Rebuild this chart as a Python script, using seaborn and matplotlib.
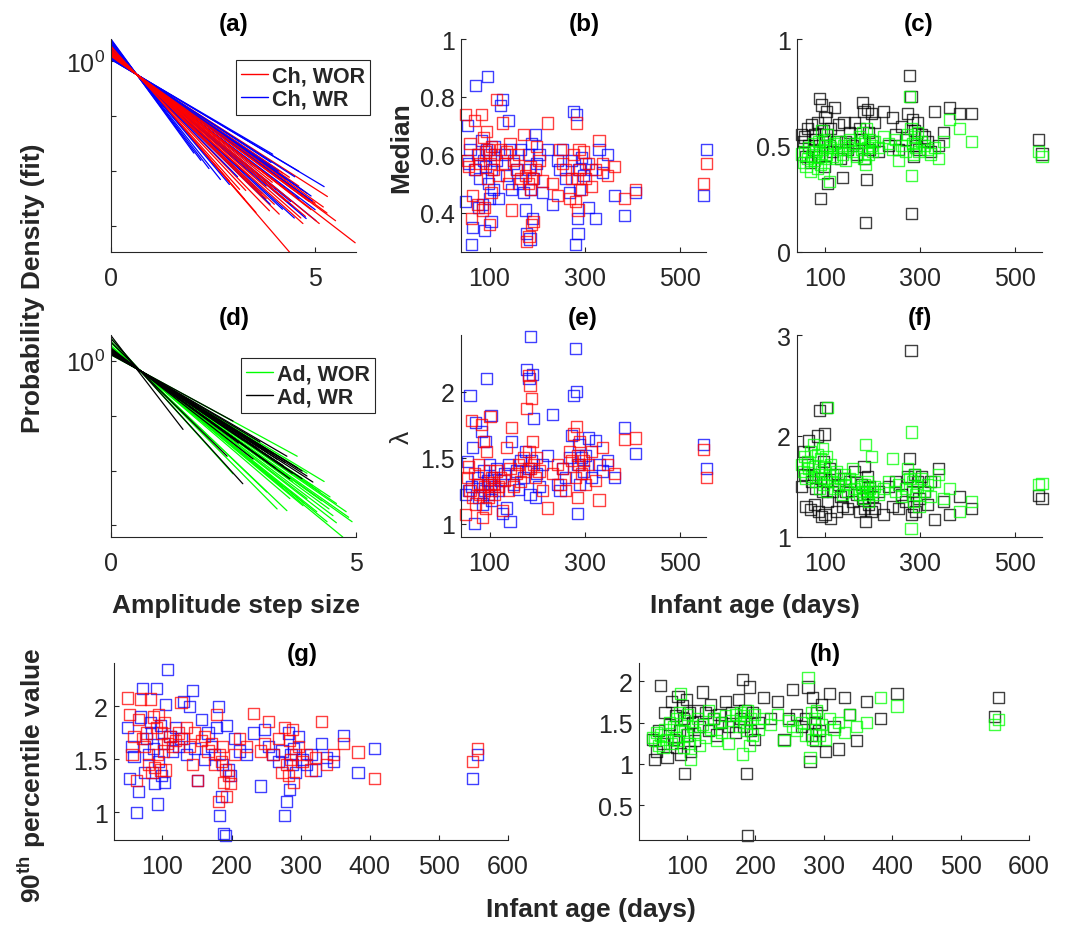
import numpy as np
import pandas as pd
import matplotlib
matplotlib.use("Agg")
import matplotlib.pyplot as plt
import seaborn as sns
from matplotlib.lines import Line2D
from matplotlib.ticker import NullLocator
from matplotlib.colors import to_rgba

# ---------------- data ----------------
# (a) fitted densities, children: value at 0, end step size, value at end
ch_wor_y0 = [1.32, 2.01, 1.15, 1.26, 1.25, 1.43, 1.43, 1.66, 1.74, 2.00, 2.00, 1.92,
             1.99, 1.21, 1.19, 1.19, 1.22, 1.40, 1.64, 1.33, 1.32, 1.52, 1.39, 1.43,
             1.27, 1.48, 1.59, 1.81, 1.27, 1.24, 1.36, 1.32, 1.62, 1.51]
ch_wor_xe = [5.98, 4.37, 5.3, 5.29, 5.0, 4.76, 4.45, 4.12, 3.88, 3.55, 3.27, 3.15,
             2.9, 4.6, 4.37, 4.2, 4.8, 4.0, 3.7, 4.9, 4.5, 3.4, 5.1, 4.3,
             5.5, 4.65, 4.0, 3.3, 4.85, 5.2, 3.95, 4.4, 3.8, 4.7]
ch_wor_ye = [5.0e-4, 3.4e-4, 3.47e-3, 1.74e-3, 2.63e-3, 1.51e-3, 2.34e-3, 1.66e-3,
             1.91e-3, 1.78e-3, 3.09e-3, 4.68e-3, 6.61e-3, 5.37e-3, 7.76e-3, 9.33e-3,
             3.98e-3, 5.0e-3, 3.55e-3, 2.0e-3, 3.55e-3, 7.94e-3, 1.12e-3, 2.82e-3,
             1.26e-3, 1.41e-3, 2.51e-3, 4.47e-3, 2.82e-3, 2.24e-3, 6.31e-3, 3.98e-3,
             3.16e-3, 1.12e-3]

ch_wr_y0 = [1.10, 1.39, 1.44, 1.54, 1.40, 1.08, 1.16, 2.54, 2.22, 2.07, 1.23,
            1.32, 1.25, 1.46, 1.44, 1.56, 1.54, 1.16, 1.33, 1.20, 2.34, 1.22,
            1.22, 1.40, 1.60, 1.71, 1.32, 1.30, 1.33, 2.43, 1.09, 1.64]
ch_wr_xe = [5.22, 5.02, 4.78, 4.49, 4.04, 3.96, 3.92, 2.03, 2.68, 2.9, 4.28,
            4.6, 4.93, 3.8, 3.47, 4.2, 3.27, 4.5, 3.6, 4.1, 2.4, 4.7,
            4.9, 4.4, 3.7, 3.1, 4.15, 5.0, 3.5, 2.2, 4.6, 3.9]
ch_wr_ye = [5.25e-3, 1.26e-3, 1.38e-3, 1.41e-3, 4.68e-3, 2.04e-2, 1.45e-2, 2.14e-2,
            7.08e-3, 5.75e-3, 7.08e-3, 3.16e-3, 2.88e-3, 5.37e-3, 9.33e-3, 2.04e-3,
            9.33e-3, 7.94e-3, 1.12e-2, 1.0e-2, 1.12e-2, 4.47e-3,
            3.55e-3, 2.82e-3, 3.98e-3, 7.94e-3, 5.62e-3, 2.0e-3, 1.26e-2, 1.58e-2,
            1.0e-2, 2.51e-3]

# (d) fitted densities, adults
ad_wor_y0 = [1.79, 1.57, 1.76, 1.48, 1.74, 2.10, 2.24, 1.28, 1.48, 2.54,
             1.80, 1.64, 1.49, 1.67, 1.86, 2.10, 1.50, 1.57, 1.60, 1.51,
             1.60, 1.57, 1.55, 1.76, 1.69, 1.37, 1.78, 1.39]
ad_wor_xe = [4.73, 4.92, 4.41, 4.47, 4.2, 3.59, 3.39, 3.8, 4.12, 2.49,
             3.92, 4.53, 4.27, 4.0, 3.65, 3.18, 4.6, 4.3, 3.7, 4.8,
             4.45, 4.15, 4.85, 3.95, 4.6, 4.35, 3.5, 4.0]
ad_wor_ye = [6.17e-4, 1.17e-3, 1.17e-3, 3.31e-3, 1.78e-3, 1.86e-3, 2.0e-3, 1.82e-2,
             5.25e-3, 8.71e-3, 2.29e-3, 1.51e-3, 4.07e-3, 3.09e-3, 3.09e-3, 4.07e-3,
             2.51e-3, 2.82e-3, 6.31e-3, 1.78e-3,
             2.0e-3, 3.55e-3, 1.41e-3, 2.51e-3, 1.12e-3, 6.31e-3, 5.01e-3, 8.91e-3]

ad_wr_y0 = [2.85, 2.51, 1.28, 1.34, 1.40, 1.44, 1.44, 2.17, 1.70, 1.48,
            1.58, 1.36, 1.42, 1.47, 1.40, 1.50, 1.45, 1.42, 1.58,
            1.50, 1.42, 1.58, 1.48, 1.58, 1.61]
ad_wr_xe = [1.47, 2.69, 2.49, 3.59, 3.9, 4.12, 3.18, 2.37, 2.9, 3.51,
            3.65, 3.04, 3.3, 3.0, 3.8, 2.7, 3.4, 4.0, 3.2,
            3.7, 3.55, 2.8, 3.9, 3.35, 2.6]
ad_wr_ye = [0.056, 5.75e-3, 7.94e-2, 1.82e-2, 9.77e-3, 6.17e-3, 2.19e-2, 1.82e-2,
            1.62e-2, 1.23e-2, 7.08e-3, 3.31e-2, 2.0e-2, 2.51e-2, 1.12e-2, 3.55e-2,
            1.58e-2, 7.94e-3, 1.41e-2,
            8.91e-3, 1.41e-2, 2.51e-2, 7.08e-3, 1.12e-2, 3.16e-2]

# infant ages (days)
ages = [50, 53, 56, 59, 62, 65, 68, 71, 74, 77,
        80, 83, 85, 87, 89, 91, 93, 95, 97, 99,
        101, 103, 105, 108, 111, 115, 119, 123, 127, 131,
        135, 139, 143, 147, 151, 156, 161, 166, 171, 175,
        178, 181, 183, 185, 187, 189, 191, 193, 196, 199,
        204, 212, 222, 232, 242, 248, 254, 260, 268, 273,
        277, 280, 282, 284, 286, 288, 290, 293, 297, 302,
        308, 315, 322, 330, 338, 348, 362, 383, 407, 549,
        556]

# (b) median, children
median_ch_wr = [0.44, 0.70, 0.57, 0.62, 0.29, 0.35, 0.55, 0.84, 0.60, 0.42,
                0.52, 0.65, 0.43, 0.58, 0.34, 0.56, 0.62, 0.87, 0.50, 0.45,
                0.60, 0.37, 0.55, 0.48, 0.63, 0.58, 0.45, 0.77, 0.79, 0.60,
                0.53, 0.72, 0.62, 0.48, 0.57, 0.55, 0.50, 0.62, 0.47, 0.41,
                0.33, 0.60, 0.55, 0.31, 0.48, 0.64, 0.38, 0.52, 0.67, 0.57,
                0.60, 0.47, 0.62, 0.43, 0.58, 0.55, 0.62, 0.52, 0.47, 0.58,
                0.75, 0.29, 0.74, 0.38, 0.33, 0.55, 0.48, 0.59, 0.53, 0.57,
                0.42, 0.55, 0.38, 0.62, 0.54, 0.60, 0.46, 0.39, 0.47, 0.46,
                0.62]
median_ch_wor = [0.74, 0.58, 0.56, 0.64, 0.38, 0.46, 0.72, 0.55, 0.43, 0.60,
                 0.57, 0.74, 0.41, 0.66, 0.42, 0.61, 0.68, 0.52, 0.62, 0.36,
                 0.57, 0.47, 0.63, 0.55, 0.60, 0.79, 0.53, 0.62, 0.71, 0.57,
                 0.61, 0.50, 0.64, 0.41, 0.58, 0.55, 0.60, 0.52, 0.67, 0.53,
                 0.30, 0.50, 0.32, 0.56, 0.48, 0.36, 0.52, 0.37, 0.55, 0.63,
                 0.58, 0.51, 0.71, 0.50, 0.46, 0.62, 0.57, 0.55, 0.45, 0.52,
                 0.60, 0.44, 0.71, 0.52, 0.41, 0.62, 0.55, 0.48, 0.61, 0.52,
                 0.57, 0.49, 0.55, 0.65, 0.57, 0.53, 0.56, 0.45, 0.48, 0.50,
                 0.57]
# (c) median, adults
median_ad_wr = [0.55, 0.52, 0.54, 0.45, 0.58, 0.50, 0.42, 0.60, 0.48, 0.55,
                0.53, 0.61, 0.45, 0.72, 0.25, 0.69, 0.52, 0.57, 0.40, 0.63,
                0.55, 0.66, 0.32, 0.50, 0.58, 0.47, 0.68, 0.52, 0.60, 0.44,
                0.35, 0.61, 0.52, 0.48, 0.56, 0.50, 0.61, 0.46, 0.58, 0.53,
                0.70, 0.66, 0.44, 0.14, 0.34, 0.67, 0.56, 0.48, 0.65, 0.52,
                0.61, 0.47, 0.66, 0.50, 0.63, 0.55, 0.48, 0.59, 0.53, 0.65,
                0.83, 0.73, 0.18, 0.62, 0.45, 0.57, 0.50, 0.61, 0.48, 0.55,
                0.54, 0.52, 0.47, 0.66, 0.50, 0.56, 0.68, 0.65, 0.65, 0.53,
                0.46]
median_ad_wor = [0.46, 0.42, 0.47, 0.40, 0.44, 0.49, 0.38, 0.45, 0.51, 0.43,
                 0.47, 0.39, 0.52, 0.45, 0.41, 0.57, 0.48, 0.37, 0.53, 0.44,
                 0.50, 0.46, 0.55, 0.33, 0.49, 0.45, 0.51, 0.44, 0.48, 0.52,
                 0.46, 0.50, 0.43, 0.49, 0.53, 0.47, 0.51, 0.45, 0.54, 0.48,
                 0.56, 0.44, 0.52, 0.41, 0.58, 0.49, 0.46, 0.53, 0.50, 0.47,
                 0.52, 0.49, 0.54, 0.51, 0.48, 0.53, 0.43, 0.50, 0.47, 0.55,
                 0.73, 0.58, 0.36, 0.51, 0.46, 0.54, 0.49, 0.56, 0.47, 0.52,
                 0.50, 0.48, 0.46, 0.49, 0.44, 0.52, 0.62, 0.58, 0.52, 0.47,
                 0.45]
# (e) lambda, children
lam_ch_wr = [1.22, 1.47, 1.25, 1.97, 1.28, 1.58, 1.00, 1.77, 1.35, 1.20,
             1.30, 1.70, 1.15, 1.40, 1.25, 1.62, 2.10, 1.33, 1.22, 1.45,
             1.30, 1.82, 1.18, 1.35, 1.28, 1.42, 1.25, 1.33, 1.08, 1.38,
             1.12, 1.45, 1.02, 1.62, 1.30, 1.40, 1.26, 1.48, 1.35, 1.55,
             2.17, 1.42, 2.10, 1.22, 2.42, 1.48, 2.13, 1.80, 1.20, 1.38,
             1.28, 1.45, 1.52, 1.83, 1.30, 1.25, 1.42, 1.35, 1.50, 1.67,
             1.97, 2.33, 2.00, 1.08, 1.45, 1.60, 1.30, 1.50, 1.40, 1.52,
             1.65, 1.35, 1.63, 1.45, 1.40, 1.48, 1.35, 1.73, 1.53, 1.60,
             1.42]
lam_ch_wor = [1.07, 1.35, 1.43, 1.25, 1.78, 1.20, 1.38, 1.15, 1.30, 1.45,
              1.22, 1.75, 1.05, 1.62, 1.28, 1.12, 1.55, 1.30, 1.20, 1.40,
              1.81, 1.25, 1.35, 1.30, 1.22, 1.40, 1.28, 1.35, 1.10, 1.33,
              1.58, 1.25, 1.42, 1.73, 1.28, 1.38, 1.45, 1.32, 1.50, 1.40,
              1.87, 2.12, 1.55, 2.05, 1.42, 1.95, 1.62, 1.45, 1.35, 1.50,
              1.40, 1.25, 1.12, 1.38, 1.45, 1.30, 1.42, 1.25, 1.55, 1.48,
              1.68, 1.35, 1.74, 1.20, 1.52, 1.45, 1.62, 1.38, 1.48, 1.30,
              1.45, 1.55, 1.33, 1.18, 1.58, 1.45, 1.38, 1.64, 1.65, 1.56,
              1.35]
# (f) lambda, adults
lam_ad_wr = [1.50, 1.85, 1.62, 1.30, 1.72, 1.95, 1.27, 1.55, 1.62, 1.32,
             1.48, 2.00, 1.25, 2.25, 1.58, 1.20, 1.45, 1.75, 2.02, 1.22,
             2.28, 1.55, 1.35, 1.68, 1.18, 1.45, 1.62, 1.25, 1.52, 1.40,
             1.30, 1.58, 1.45, 1.28, 1.55, 1.35, 1.65, 1.42, 1.25, 1.52,
             1.38, 1.70, 1.28, 1.15, 1.45, 1.60, 1.32, 1.50, 1.25, 1.40,
             1.28, 1.45, 1.22, 1.50, 1.30, 1.55, 1.28, 1.42, 1.35, 1.60,
             1.78, 2.85, 1.22, 1.45, 1.30, 1.62, 1.25, 1.55, 1.38, 1.60,
             1.45, 1.32, 1.55, 1.17, 1.68, 1.35, 1.22, 1.40, 1.28, 1.41,
             1.38]
lam_ad_wor = [1.72, 1.65, 1.80, 1.58, 1.75, 1.68, 1.85, 1.60, 1.92, 1.70,
              1.55, 1.82, 1.62, 1.48, 1.78, 1.65, 1.88, 1.52, 1.70, 1.58,
              1.80, 1.45, 2.28, 1.62, 1.72, 1.55, 1.48, 1.65, 1.50, 1.58,
              1.42, 1.62, 1.52, 1.45, 1.58, 1.68, 1.48, 1.55, 1.42, 1.50,
              1.45, 1.38, 1.52, 1.92, 1.42, 1.55, 1.35, 1.48, 1.80, 1.45,
              1.50, 1.42, 1.48, 1.55, 1.78, 1.45, 1.52, 1.40, 1.48, 1.68,
              1.58, 1.08, 2.04, 1.55, 1.35, 1.62, 1.42, 1.50, 1.30, 1.58,
              1.45, 1.52, 1.40, 1.55, 1.62, 1.38, 1.48, 1.25, 1.35, 1.52,
              1.53]
# (g) 90th percentile, children
p90_ch_wr = [1.80, 1.32, 1.62, 1.53, 1.00, 1.20, 1.90, 2.17, 1.38, 1.70,
             1.55, 1.85, 1.75, 1.60, 1.27, 2.17, 1.08, 1.48, 1.82, 1.35,
             1.65, 1.28, 2.02, 2.35, 1.72, 1.58, 1.80, 1.62, 1.70, 2.05,
             1.55, 2.00, 2.15, 1.60, 1.30, 1.88, 1.50, 1.75, 1.62, 1.55,
             1.80, 2.00, 0.97, 1.15, 1.45, 0.80, 0.78, 1.82, 1.40, 1.35,
             1.70, 1.58, 1.55, 1.75, 1.25, 1.78, 1.62, 1.55, 1.48, 1.58,
             0.97, 1.10, 1.75, 1.22, 1.55, 1.45, 1.60, 1.38, 1.72, 1.50,
             1.45, 1.55, 1.40, 1.65, 1.52, 1.48, 1.73, 1.38, 1.60, 1.32,
             1.55]
p90_ch_wor = [2.08, 1.92, 1.55, 1.72, 1.30, 1.88, 2.07, 1.70, 1.62, 1.75,
              1.45, 2.07, 1.38, 1.90, 1.42, 1.80, 1.55, 1.92, 1.40, 1.75,
              1.58, 1.85, 1.40, 1.65, 1.72, 1.62, 1.68, 1.75, 2.04, 1.70,
              1.80, 1.62, 1.45, 1.75, 1.30, 1.68, 1.72, 1.58, 1.65, 1.45,
              1.92, 1.10, 1.55, 1.48, 1.62, 1.28, 1.40, 1.15, 1.35, 1.27,
              1.55, 1.70, 1.62, 1.93, 1.58, 1.65, 1.86, 1.55, 1.70, 1.38,
              1.80, 1.45, 1.35, 1.68, 1.50, 1.78, 1.28, 1.55, 1.62, 1.48,
              1.55, 1.40, 1.52, 1.86, 1.45, 1.55, 1.65, 1.57, 1.32, 1.48,
              1.60]
# (h) 90th percentile, adults
p90_ad_wr = [1.30, 1.05, 1.15, 1.40, 1.95, 1.25, 1.62, 1.08, 1.48, 1.75,
             1.30, 1.58, 1.20, 1.82, 1.40, 1.12, 1.70, 1.55, 0.88, 1.78,
             1.35, 1.62, 1.15, 1.50, 1.28, 1.65, 1.45, 1.87, 1.62, 1.40,
             1.72, 1.55, 1.35, 1.60, 1.50, 1.75, 1.45, 1.62, 1.38, 1.78,
             1.55, 2.02, 1.45, 1.65, 0.88, 0.13, 1.93, 1.40, 1.62, 1.30,
             1.50, 1.80, 1.55, 1.75, 1.30, 1.55, 1.90, 1.60, 1.45, 1.55,
             1.93, 1.03, 1.35, 1.80, 1.50, 1.28, 1.62, 1.40, 1.72, 1.15,
             1.85, 1.45, 1.18, 1.80, 1.60, 1.28, 1.75, 1.55, 1.85, 1.57,
             1.80]
p90_ad_wor = [1.32, 1.28, 1.38, 1.22, 1.35, 1.20, 1.42, 1.30, 1.50, 1.25,
              1.45, 1.32, 1.55, 1.28, 1.62, 1.85, 1.40, 1.20, 1.52, 1.35,
              1.60, 1.25, 1.05, 1.45, 1.38, 1.55, 1.22, 1.48, 1.32, 1.65,
              1.42, 1.55, 1.28, 1.50, 1.38, 1.58, 1.25, 1.52, 1.60, 1.45,
              1.62, 1.12, 1.58, 1.50, 1.40, 1.65, 1.22, 1.55, 1.35, 1.60,
              1.42, 1.55, 1.48, 1.60, 1.28, 1.52, 1.45, 1.40, 1.50, 1.35,
              2.04, 1.08, 1.62, 1.30, 1.55, 1.42, 1.65, 1.35, 1.48, 1.30,
              1.55, 1.42, 1.50, 1.38, 1.60, 1.45, 1.50, 1.80, 1.70, 1.48,
              1.54]

RED, BLUE, GREEN, BLACK = "#ff0000", "#0000ff", "#00ff00", "#000000"
INK = "#262626"

# ---------------- style ----------------
sns.set_theme(style="white")
plt.rcParams["font.family"] = ["Liberation Sans", "DejaVu Sans"]
plt.rcParams.update({
    "mathtext.fontset": "custom",
    "mathtext.rm": "Liberation Sans",
    "mathtext.it": "Liberation Sans:italic",
    "mathtext.bf": "Liberation Sans:bold",
    "mathtext.default": "regular",
})

W, H = 1065, 929
fig = plt.figure(figsize=(W / 100, H / 100), dpi=100)
fig.patch.set_facecolor("white")


def rect(l, t, r, b):
    return [l / W, 1 - b / H, (r - l) / W, (b - t) / H]


def style(ax):
    for s in ["top", "right"]:
        ax.spines[s].set_visible(False)
    for s in ["left", "bottom"]:
        ax.spines[s].set_color(INK)
        ax.spines[s].set_linewidth(0.8)
    ax.set_facecolor("white")
    ax.tick_params(direction="in", length=3.5, width=0.8, color=INK,
                   labelcolor=INK, labelsize=18, left=True, bottom=True)
    ax.tick_params(axis="x", pad=10)
    ax.tick_params(axis="y", pad=4.5)
    ax.set_xlabel("")
    ax.set_ylabel("")


def lines(ax, y0, xe, ye, color):
    n = len(y0)
    df = pd.DataFrame({
        "x": np.concatenate([np.zeros(n), np.asarray(xe)]),
        "y": np.concatenate([np.asarray(y0), np.asarray(ye)]),
        "id": np.concatenate([np.arange(n), np.arange(n)]),
    })
    sns.lineplot(data=df, x="x", y="y", units="id", estimator=None, sort=False,
                 color=color, lw=0.9, ax=ax, legend=False)


def scat(ax, y, color):
    sns.scatterplot(x=ages, y=y, ax=ax, marker="s", s=64, legend=False,
                    clip_on=False)
    coll = ax.collections[-1]
    coll.set_facecolor("none")
    coll.set_edgecolor(to_rgba(color, 0.75))
    coll.set_linewidth(1.0)


def loglegend(ax, labels, colors, x, y):
    handles = [Line2D([0], [0], color=c, lw=1.0) for c in colors]
    leg = ax.legend(handles, labels, loc="upper left",
                    bbox_to_anchor=(x / W, 1 - y / H),
                    bbox_transform=fig.transFigure,
                    prop={"weight": "bold", "size": 15.5}, frameon=True,
                    fancybox=False, edgecolor=INK, framealpha=1,
                    borderpad=0.25, handlelength=1.25, handletextpad=0.15,
                    labelspacing=0.12, borderaxespad=0)
    leg.get_frame().set_linewidth(0.8)


# (a)
ax_a = fig.add_axes(rect(111, 40, 356, 253))
lines(ax_a, ch_wor_y0[:17], ch_wor_xe[:17], ch_wor_ye[:17], RED)
lines(ax_a, ch_wr_y0, ch_wr_xe, ch_wr_ye, BLUE)
lines(ax_a, ch_wor_y0[17:], ch_wor_xe[17:], ch_wor_ye[17:], RED)
ax_a.set_yscale("log")
ax_a.set_xlim(0, 6)
ax_a.set_ylim(3.4e-4, 2.55)
ax_a.set_xticks([0, 5])
ax_a.set_yticks([1, 0.1, 0.01, 0.001])
ax_a.set_yticklabels(["$10^{0}$", "", "", ""])
ax_a.yaxis.set_minor_locator(NullLocator())
style(ax_a)
loglegend(ax_a, ["Ch, WOR", "Ch, WR"], [RED, BLUE], 236, 61)

# (d)
ax_d = fig.add_axes(rect(111, 336, 356, 538))
lines(ax_d, ad_wor_y0, ad_wor_xe, ad_wor_ye, GREEN)
lines(ax_d, ad_wr_y0, ad_wr_xe, ad_wr_ye, BLACK)
ax_d.set_yscale("log")
ax_d.set_xlim(0, 5)
ax_d.set_ylim(6.17e-4, 2.93)
ax_d.set_xticks([0, 5])
ax_d.set_yticks([1, 0.1, 0.01, 0.001])
ax_d.set_yticklabels(["$10^{0}$", "", "", ""])
ax_d.yaxis.set_minor_locator(NullLocator())
style(ax_d)
loglegend(ax_d, ["Ad, WOR", "Ad, WR"], [GREEN, BLACK], 241, 359)

# (b)
ax_b = fig.add_axes(rect(461, 40, 706, 253))
scat(ax_b, median_ch_wr, BLUE)
scat(ax_b, median_ch_wor, RED)
ax_b.set_xlim(40, 555)
ax_b.set_ylim(0.265, 1.0)
ax_b.set_xticks([100, 300, 500])
ax_b.set_yticks([0.4, 0.6, 0.8, 1.0])
ax_b.set_yticklabels(["0.4", "0.6", "0.8", "1"])
style(ax_b)

# (c)
ax_c = fig.add_axes(rect(797, 40, 1042, 253))
scat(ax_c, median_ad_wr, BLACK)
scat(ax_c, median_ad_wor, GREEN)
ax_c.set_xlim(40, 556)
ax_c.set_ylim(0, 1)
ax_c.set_xticks([100, 300, 500])
ax_c.set_yticks([0, 0.5, 1])
ax_c.set_yticklabels(["0", "0.5", "1"])
style(ax_c)

# (e)
ax_e = fig.add_axes(rect(461, 336, 706, 538))
scat(ax_e, lam_ch_wr, BLUE)
scat(ax_e, lam_ch_wor, RED)
ax_e.set_xlim(40, 555)
ax_e.set_ylim(0.9, 2.43)
ax_e.set_xticks([100, 300, 500])
ax_e.set_yticks([1, 1.5, 2])
ax_e.set_yticklabels(["1", "1.5", "2"])
style(ax_e)

# (f)
ax_f = fig.add_axes(rect(797, 336, 1042, 538))
scat(ax_f, lam_ad_wr, BLACK)
scat(ax_f, lam_ad_wor, GREEN)
ax_f.set_xlim(40, 556)
ax_f.set_ylim(1, 3)
ax_f.set_xticks([100, 300, 500])
ax_f.set_yticks([1, 2, 3])
style(ax_f)

# (g)
ax_g = fig.add_axes(rect(114, 664, 508, 841))
scat(ax_g, p90_ch_wr, BLUE)
scat(ax_g, p90_ch_wor, RED)
ax_g.set_xlim(30, 600)
ax_g.set_ylim(0.74, 2.41)
ax_g.set_xticks([100, 200, 300, 400, 500, 600])
ax_g.set_yticks([1, 1.5, 2])
ax_g.set_yticklabels(["1", "1.5", "2"])
style(ax_g)

# (h)
ax_h = fig.add_axes(rect(639, 664, 1029, 841))
scat(ax_h, p90_ad_wr, BLACK)
scat(ax_h, p90_ad_wor, GREEN)
ax_h.set_xlim(30, 600)
ax_h.set_ylim(0.08, 2.22)
ax_h.set_xticks([100, 200, 300, 400, 500, 600])
ax_h.set_yticks([0.5, 1, 1.5, 2])
ax_h.set_yticklabels(["0.5", "1", "1.5", "2"])
style(ax_h)

# titles
for lab, x, y in [("(a)", 234, 24), ("(b)", 584, 24), ("(c)", 919, 24),
                  ("(d)", 234, 318), ("(e)", 583, 318), ("(f)", 920, 318),
                  ("(g)", 302, 655), ("(h)", 825, 655)]:
    fig.text(x / W, 1 - y / H, lab, ha="center", va="center",
             fontsize=17.5, fontweight="bold", color="black")

# axis labels
LBL = dict(fontsize=19, fontweight="bold", color=INK, ha="center", va="center")
fig.text(33 / W, 1 - 288 / H, "Probability Density (fit)", rotation=90, **LBL)
fig.text(401 / W, 1 - 148 / H, "Median", rotation=90, **LBL)
fig.text(402 / W, 1 - 437 / H, "λ", rotation=90, fontsize=19, color=INK,
         ha="center", va="center")
fig.text(236 / W, 1 - 606 / H, "Amplitude step size", **LBL)
fig.text(755 / W, 1 - 606 / H, "Infant age (days)", **LBL)
fig.text(32 / W, 1 - 775 / H, r"90$^{\mathbf{th}}$ percentile value",
         rotation=90, **LBL)
fig.text(591 / W, 1 - 910 / H, "Infant age (days)", **LBL)

fig.savefig("out.png", dpi=100, facecolor="white")
